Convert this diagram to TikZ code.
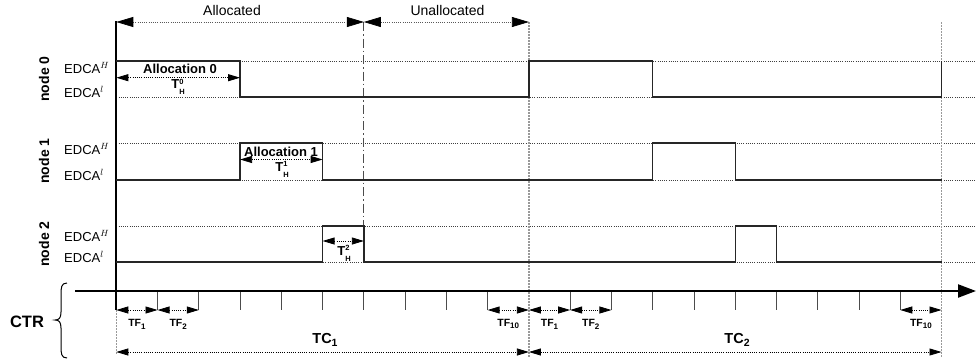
\documentclass[tikz,border=0pt]{standalone}
\usepackage{fontspec}
\setmainfont{Liberation Sans}
\usetikzlibrary{arrows.meta}
\newcommand\fr[1]{116.3+41.26*#1}
\newcommand\THlab[1]{\textbf{T}\rlap{\raisebox{4.2pt}{\bfseries\fontsize{7.5}{7.5}\selectfont #1}}\raisebox{-6.2pt}{\bfseries\fontsize{7.5}{7.5}\selectfont H}}
\newcommand\TFlab[1]{\textbf{TF}\raisebox{-2.8pt}{\bfseries\fontsize{8}{8}\selectfont #1}}
\newcommand\TClab[1]{\textbf{TC}\raisebox{-3.5pt}{\bfseries\fontsize{10.5}{10.5}\selectfont #1}}
\begin{document}
\begin{tikzpicture}[x=1pt,y=-1pt,
  sig/.style={line width=1.4pt,draw=black!85},
  hgrid/.style={line width=0.7pt,draw=black!75,dash pattern=on 1pt off 1.2pt},
  vgrid/.style={line width=1.2pt,draw=black!40,dash pattern=on 1.5pt off 1.5pt},
  dimarr/.style={line width=0.8pt,draw=black,dash pattern=on 1pt off 1.2pt,
     {Triangle[length=12pt,width=7pt]}-{Triangle[length=12pt,width=7pt]}},
  toparr/.style={line width=0.7pt,draw=black!65,dash pattern=on 1pt off 1.2pt,
     {Triangle[length=17pt,width=10pt,color=black]}-{Triangle[length=17pt,width=10pt,color=black]}},
  tickln/.style={line width=0.9pt,draw=black!70},
  edca/.style={font=\fontsize{13}{13}\selectfont,inner sep=0pt,anchor=base west},
  nodelab/.style={font=\bfseries\fontsize{14}{14}\selectfont,rotate=90,inner sep=0pt},
  alloc/.style={font=\bfseries\fontsize{13}{13}\selectfont,inner sep=0pt,anchor=base},
  tlab/.style={font=\fontsize{13}{13}\selectfont,inner sep=0pt,anchor=base},
  tflab/.style={font=\fontsize{10.5}{10.5}\selectfont,inner sep=0pt},
  tclab/.style={font=\fontsize{14.5}{14.5}\selectfont,inner sep=0pt},
  toplab/.style={font=\fontsize{14}{14}\selectfont,inner sep=0pt,anchor=base}
]
\useasboundingbox (0,0) rectangle (976,362);

% named coordinates
\foreach \k in {0,...,20} {
  \coordinate (top\k) at ({\fr{\k}},22);
  \coordinate (ax\k) at ({\fr{\k}},291);
  \coordinate (tk\k) at ({\fr{\k}},310);
  \coordinate (tc\k) at ({\fr{\k}},352);
}

% horizontal dotted level lines
\foreach \y in {61,97,143,180,226,262}
  \draw[hgrid] (116.3,\y) -- (976,\y);

% vertical dotted cycle boundaries
\draw[vgrid] (top10) -- ({\fr{10}},357);
\draw[vgrid] (top20) -- ({\fr{20}},357);
\draw[vgrid] (tk0) -- ({\fr{0}},355);

% dash-dot allocated boundary
\draw[line width=0.9pt,draw=black!70,dash pattern=on 9pt off 3pt on 1.5pt off 3pt] (top6) -- ({\fr{6}},226);

% ticks
\foreach \k in {1,...,9,11,12,...,19}
  \draw[tickln] (ax\k) -- (tk\k);

% axes
\coordinate (axL) at (75,291);
\coordinate (axR) at (976,291);
\draw[line width=2.2pt,-{Triangle[length=18pt,width=13pt]}] (axL) -- (axR);
\draw[line width=2pt] ({\fr{0}},21) -- (tk0);

% signals
\draw[sig] ({\fr{0}},61) -- ({\fr{3}},61) -- ({\fr{3}},97) -- ({\fr{10}},97) -- ({\fr{10}},61)
  -- ({\fr{13}},61) -- ({\fr{13}},97) -- ({\fr{20}},97) -- ({\fr{20}},61);
\draw[sig] ({\fr{0}},180) -- ({\fr{3}},180) -- ({\fr{3}},143) -- ({\fr{5}},143) -- ({\fr{5}},180)
  -- ({\fr{13}},180) -- ({\fr{13}},143) -- ({\fr{15}},143) -- ({\fr{15}},180) -- ({\fr{20}},180);
\draw[sig] ({\fr{0}},262) -- ({\fr{5}},262) -- ({\fr{5}},226) -- ({\fr{6}},226) -- ({\fr{6}},262)
  -- ({\fr{15}},262) -- ({\fr{15}},226) -- ({\fr{16}},226) -- ({\fr{16}},262) -- ({\fr{20}},262);

% top arrows
\draw[toparr] (top0) -- (top6);
\draw[toparr] (top6) -- (top10);
\node[toplab] (lalloc) at (232,15) {Allocated};
\node[toplab] (lunalloc) at (447.5,15) {Unallocated};

% node labels
\node[nodelab] (n0) at (44,79) {node 0};
\node[nodelab] (n1) at (44,161) {node 1};
\node[nodelab] (n2) at (44,244) {node 2};
\node[edca] (h0) at (64,73) {EDCA$^{H}$};
\node[edca] (l0) at (64,97) {EDCA$^{l}$};
\node[edca] (h1) at (64,154) {EDCA$^{H}$};
\node[edca] (l1) at (64,180) {EDCA$^{l}$};
\node[edca] (h2) at (64,241) {EDCA$^{H}$};
\node[edca] (l2) at (64,262) {EDCA$^{l}$};

% allocations
\node[alloc] (a0) at (180,73.3) {Allocation 0};
\draw[dimarr] ({\fr{0}},77.7) -- ({\fr{3}},77.7);
\node[tlab] (t0) at (178,88.3) {\THlab{0}};
\node[alloc] (a1) at (281,156) {Allocation 1};
\draw[dimarr] ({\fr{3}},159.5) -- ({\fr{5}},159.5);
\node[tlab] (t1) at (282,171) {\THlab{1}};
\draw[dimarr] ({\fr{5}},241) -- ({\fr{6}},241);
\node[tlab] (t2) at (344,255) {\THlab{2}};

% TF arrows
\draw[dimarr] (tk0) -- (tk1);
\draw[dimarr] (tk1) -- (tk2);
\draw[dimarr] (tk9) -- (tk10);
\draw[dimarr] (tk10) -- (tk11);
\draw[dimarr] (tk11) -- (tk12);
\draw[dimarr] (tk19) -- (tk20);
\node[tflab] (tfa) at ({\fr{0.5}},324) {\TFlab{1}};
\node[tflab] (tfb) at ({\fr{1.5}},324) {\TFlab{2}};
\node[tflab] (tfc) at ({\fr{9.5}},324) {\TFlab{10}};
\node[tflab] (tfd) at ({\fr{10.5}},324) {\TFlab{1}};
\node[tflab] (tfe) at ({\fr{11.5}},324) {\TFlab{2}};
\node[tflab] (tff) at ({\fr{19.5}},324) {\TFlab{10}};

% TC arrows
\draw[dimarr] (tc0) -- (tc10);
\draw[dimarr] (tc10) -- (tc20);
\node[tclab] (tc1l) at (325,340) {\TClab{1}};
\node[tclab] (tc2l) at (737,340) {\TClab{2}};

% CTR brace
\draw[line width=1pt] (67,283) .. controls (61,283) and (61,288) .. (61,295) -- (61,312)
  .. controls (61,318) and (59,320) .. (55,320) .. controls (59,320) and (61,322) .. (61,328)
  -- (61,346) .. controls (61,353) and (61,358) .. (67,358);
\node[font=\bfseries\fontsize{16.5}{16.5}\selectfont,inner sep=0pt] (ctr) at (27,322) {CTR};
\end{tikzpicture}
\end{document}
